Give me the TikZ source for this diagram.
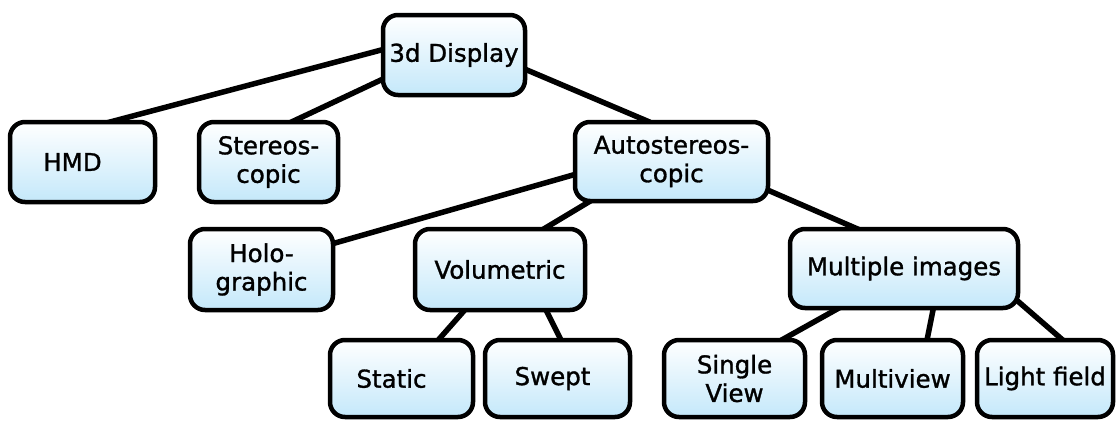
\documentclass[tikz,border=0pt]{standalone}
\usepackage{fontspec}
\setmainfont[FakeBold=1.2]{DejaVu Sans}
\usetikzlibrary{backgrounds}
\definecolor{boxblue}{RGB}{196,232,250}
\tikzset{
  box/.style={draw=black, line width=4.5pt, rounded corners=15pt,
    top color=white, bottom color=boxblue, inner sep=0pt,
    align=center, text=black,
    font=\fontsize{24.5}{28.5}\selectfont},
  link/.style={line width=5.5pt, black}
}
\begin{document}
\begin{tikzpicture}[x=1pt, y=-1pt]
\useasboundingbox (0,0) rectangle (1116,421);

% row 1
\node[box, minimum width=142pt, minimum height=80pt] (disp) at (454,55) {3d Display};
% row 2
\node[box, minimum width=145pt, minimum height=80pt] (hmd) at (82.5,162) {HMD\hspace*{20pt}};
\node[box, minimum width=139pt, minimum height=80pt] (stereo) at (268.5,162) {Stereos-\\copic};
\node[box, minimum width=193pt, minimum height=79pt] (auto) at (671.5,161.5) {Autostereos-\\copic};
% row 3
\node[box, minimum width=143pt, minimum height=81pt] (holo) at (261.5,269.5) {Holo-\\graphic};
\node[box, minimum width=170pt, minimum height=81pt] (vol) at (500,269.5) {Volumetric};
\node[box, minimum width=228pt, minimum height=79pt] (multi) at (904,268.5) {Multiple images};
% row 4
\node[box, minimum width=143pt, minimum height=77pt] (static) at (401.5,378.5) {\raisebox{-3pt}{Static}\hspace*{20pt}};
\node[box, minimum width=145pt, minimum height=77pt] (swept) at (557.5,378.5) {\raisebox{-3pt}{Swept}\hspace*{10pt}};
\node[box, minimum width=141pt, minimum height=77pt] (single) at (734.5,378.5) {Single\\View};
\node[box, minimum width=141pt, minimum height=77pt] (mview) at (892.5,378.5) {Multiview};
\node[box, minimum width=136pt, minimum height=77pt] (light) at (1045,378.5) {Light field};

% connectors, kept behind the boxes
\begin{scope}[on background layer]
  \draw[link] ([shift={(-54,-10)}]disp.center) -- ([shift={(12.5,-36)}]hmd.center);
  \draw[link] ([shift={(-54,16)}]disp.center) -- ([shift={(11.5,-34.6)}]stereo.center);
  \draw[link] ([shift={(56,7.8)}]disp.center) -- ([shift={(-21.5,-39.3)}]auto.center);
  \draw[link] ([shift={(-81.5,8.6)}]auto.center) -- ([shift={(58.5,-22.2)}]holo.center);
  \draw[link] ([shift={(-71.5,33.7)}]auto.center) -- ([shift={(40,-38.3)}]vol.center);
  \draw[link] ([shift={(78.5,20.9)}]auto.center) -- ([shift={(-39,-36.3)}]multi.center);
  \draw[link] ([shift={(-30,34.5)}]vol.center) -- ([shift={(31.5,-32.5)}]static.center);
  \draw[link] ([shift={(43,34.5)}]vol.center) -- ([shift={(7.5,-30.5)}]swept.center);
  \draw[link] ([shift={(-64,38.9)}]multi.center) -- ([shift={(40.5,-34.8)}]single.center);
  \draw[link] ([shift={(30,36.5)}]multi.center) -- ([shift={(33.5,-33.5)}]mview.center);
  \draw[link] ([shift={(106,25.9)}]multi.center) -- ([shift={(20,-36.5)}]light.center);
\end{scope}
\end{tikzpicture}
\end{document}
